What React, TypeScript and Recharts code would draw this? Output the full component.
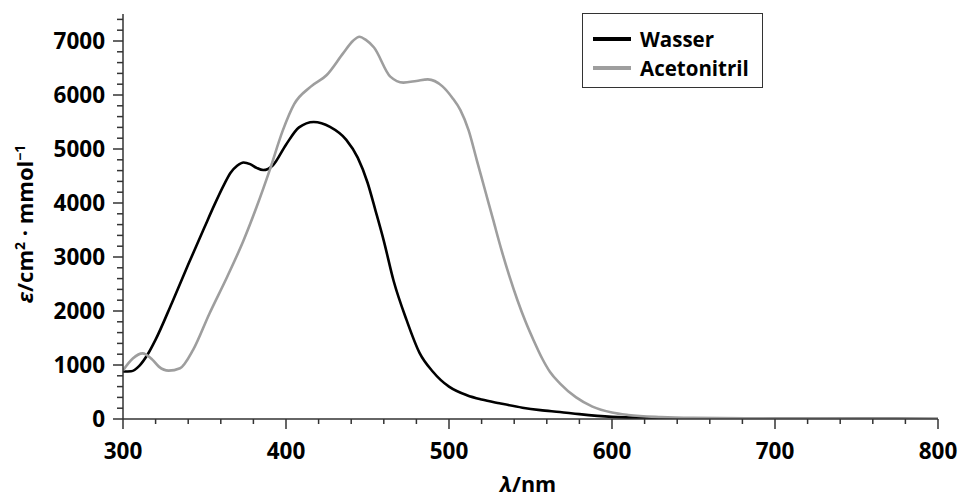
import React from "react";
import { LineChart, Line, XAxis, YAxis, Legend, Label } from "recharts";

const wasserNm = [300, 305, 310, 315, 320, 330, 340, 350, 356, 362, 366, 370, 374, 378, 382, 386, 392, 400, 408, 417, 427, 437, 444, 450, 455, 460, 466, 474, 482, 490, 495, 500, 511, 520, 531, 545, 556, 568, 580, 600, 620, 650, 700, 750, 800];
const wasserEps = [880, 885, 985, 1190, 1470, 2150, 2860, 3550, 3960, 4340, 4560, 4690, 4750, 4720, 4650, 4610, 4700, 5080, 5400, 5500, 5410, 5170, 4840, 4380, 3850, 3300, 2560, 1830, 1220, 880, 720, 600, 440, 360, 290, 210, 165, 130, 90, 40, 20, 10, 5, 3, 0];

const acnNm = [300, 306, 312, 318, 322, 328, 335, 343, 353, 364, 374, 382, 390, 398, 405, 415, 425, 435, 441, 445, 449, 454, 464, 472, 480, 487, 496, 502, 507, 512, 517, 522, 527, 532, 537, 542, 547, 552, 557, 562, 568, 578, 588, 600, 610, 630, 650, 700, 750, 800];
const acnEps = [900, 1120, 1215, 1100, 970, 895, 940, 1280, 1950, 2640, 3310, 3930, 4610, 5340, 5830, 6150, 6370, 6770, 7000, 7080, 7020, 6880, 6340, 6230, 6260, 6290, 6160, 5950, 5720, 5350, 4800, 4250, 3700, 3150, 2650, 2200, 1800, 1450, 1130, 870, 660, 400, 230, 120, 74, 35, 20, 10, 6, 5];

const seriesNames = ["Wasser", "Acetonitril"];
const seriesColors = ["#000000", "#9e9e9e"];

const xTicks: number[] = [];
for (let v = 300; v <= 800; v += 20) xTicks.push(v);
const yTicks: number[] = [];
for (let v = 0; v <= 7400; v += 200) yTicks.push(v);

const wasserData = wasserNm.map((x, i) => ({ x, y: wasserEps[i] }));
const acnData = acnNm.map((x, i) => ({ x, y: acnEps[i] }));

const FONT = "'Open Sans', sans-serif";
const AXIS = "#333333";

const XTick = (props: any) => {
  const { x, y, payload } = props;
  const v = payload.value;
  const major = v % 100 === 0;
  return (
    <g>
      <line x1={x} x2={x} y1={y} y2={y + (major ? 10 : 5)} stroke={AXIS} strokeWidth={1.5} />
      {major && (
        <text x={x} y={y + 40} textAnchor="middle" fontFamily={FONT} fontWeight={700} fontSize={22.5} fill="#000">
          {v}
        </text>
      )}
    </g>
  );
};

const YTick = (props: any) => {
  const { x, y, payload } = props;
  const v = payload.value;
  const major = v % 1000 === 0;
  return (
    <g>
      <line x1={x} x2={x - (major ? 10 : 6)} y1={y} y2={y} stroke={AXIS} strokeWidth={1.5} />
      {major && (
        <text x={x - 18} y={y + 8} textAnchor="end" fontFamily={FONT} fontWeight={700} fontSize={22.5} fill="#000">
          {v}
        </text>
      )}
    </g>
  );
};

const YLabel = () => (
  <text
    transform="translate(33,224) rotate(-90)"
    textAnchor="middle"
    fontFamily={FONT}
    fontWeight={700}
    fontSize={22}
    fill="#000"
  >
    <tspan fontStyle="italic">ε</tspan>
    <tspan>/cm</tspan>
    <tspan dy={-8} fontSize={14}>2</tspan>
    <tspan dy={8}> · mmol</tspan>
    <tspan dy={-8} fontSize={14}>−1</tspan>
  </text>
);

const XLabel = () => (
  <text x={528} y={492} textAnchor="middle" fontFamily={FONT} fontWeight={700} fontSize={21.5} fill="#000">
    <tspan fontStyle="italic">λ</tspan>
    <tspan>/nm</tspan>
  </text>
);

const LegendBox = () => (
  <div
    style={{
      width: 181,
      height: 75,
      border: "1.5px solid #333",
      background: "#fff",
      boxSizing: "border-box",
      fontFamily: FONT,
      fontWeight: 700,
      fontSize: 20.5,
      color: "#000",
      position: "relative",
    }}
  >
    {seriesNames.map((n, i) => (
      <div key={n} style={{ position: "absolute", left: 10, top: 12 + i * 29, height: 26, display: "flex", alignItems: "center" }}>
        <div style={{ width: 38, height: 3.5, background: seriesColors[i], marginRight: 9 }} />
        <span style={{ lineHeight: "26px" }}>{n}</span>
      </div>
    ))}
  </div>
);

export default function App() {
  return (
    <div style={{ position: "absolute", left: 0, top: 0, width: 960, height: 497, background: "#fff" }}>
      <LineChart width={960} height={497} margin={{ top: 14, right: 22, bottom: 0, left: 0 }}>
        <XAxis
          type="number"
          dataKey="x"
          domain={[300, 800]}
          ticks={xTicks}
          interval={0}
          allowDataOverflow
          tickSize={0}
          tickMargin={0}
          tickLine={false}
          tick={<XTick />}
          stroke={AXIS}
          strokeWidth={1.5}
          height={78}
        >
          <Label content={<XLabel />} />
        </XAxis>
        <YAxis
          type="number"
          dataKey="y"
          domain={[0, 7500]}
          ticks={yTicks}
          interval={0}
          allowDataOverflow
          tickSize={0}
          tickMargin={0}
          tickLine={false}
          tick={<YTick />}
          stroke={AXIS}
          strokeWidth={1.5}
          width={123}
        >
          <Label content={<YLabel />} />
        </YAxis>
        <Legend
          content={<LegendBox />}
          layout="horizontal"
          verticalAlign="middle"
          align="center"
          wrapperStyle={{ position: "absolute", left: 582, top: 13, width: 181 }}
        />
        <Line
          data={wasserData}
          dataKey="y"
          name={seriesNames[0]}
          type="monotone"
          stroke={seriesColors[0]}
          strokeWidth={2.6}
          dot={false}
          isAnimationActive={false}
        />
        <Line
          data={acnData}
          dataKey="y"
          name={seriesNames[1]}
          type="monotone"
          stroke={seriesColors[1]}
          strokeWidth={2.6}
          dot={false}
          isAnimationActive={false}
        />
      </LineChart>
    </div>
  );
}
